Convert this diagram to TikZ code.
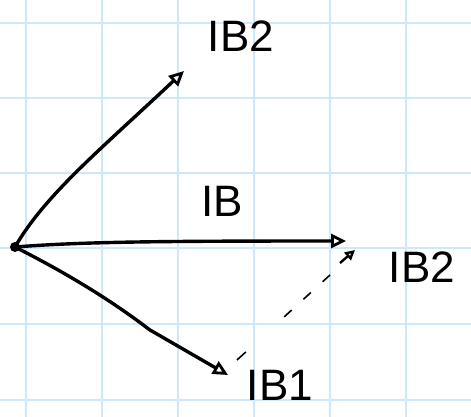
\documentclass[tikz,border=0pt]{standalone}
\usepackage{fontspec}
\setmainfont{Liberation Sans}
\usetikzlibrary{arrows.meta}
\definecolor{gridc}{RGB}{204,232,250}
\begin{document}
\begin{tikzpicture}[x=1pt,y=-1pt,
  vec/.style={line width=3.4pt, line cap=round,
    -{Triangle[open, length=15pt, width=14pt, line width=2.8pt]}},
  lbl/.style={font=\fontsize{44}{46}\selectfont, inner sep=0pt},
  gline/.style={gridc, line width=1.6pt}]
\fill[white] (0,0) rectangle (471,417);
\useasboundingbox (0,0) rectangle (471,417);
\foreach \x in {26,102,178,254,330,406} \draw[gline] (\x,0) -- (\x,417);
\foreach \y in {23,98,173,248,324,400} \draw[gline] (0,\y) -- (471,\y);
\coordinate (O) at (15,247);
\coordinate (A) at (184,71);
\coordinate (B) at (346,241);
\coordinate (C) at (228,375);
\coordinate (E) at (237,360);
\coordinate (F) at (330,275);
\coordinate (G) at (340,263);
\coordinate (D) at (355,250);
\draw[vec] (O) .. controls (45,195) and (100,150) .. (A);
\draw[vec] (O) .. controls (80,242) and (150,241) .. (B);
\draw[vec] (O) .. controls (90,285) and (130,315) .. (150,330) -- (C);
\draw[line width=1.6pt, dash pattern=on 10pt off 16pt on 10pt off 16pt on 10pt off 52pt on 12pt off 20pt] (F) -- (E);
\draw[line width=2.4pt, -{Triangle[open, length=10pt, width=10pt, line width=2.4pt]}] (G) -- (D);
\fill (O) circle (5pt);
\node[lbl] (l1) at (241,36) {IB2};
\node[lbl] (l2) at (222,201) {IB};
\node[lbl] (l3) at (422,267) {IB2};
\node[lbl] (l4) at (280,385) {IB1};
\end{tikzpicture}
\end{document}
